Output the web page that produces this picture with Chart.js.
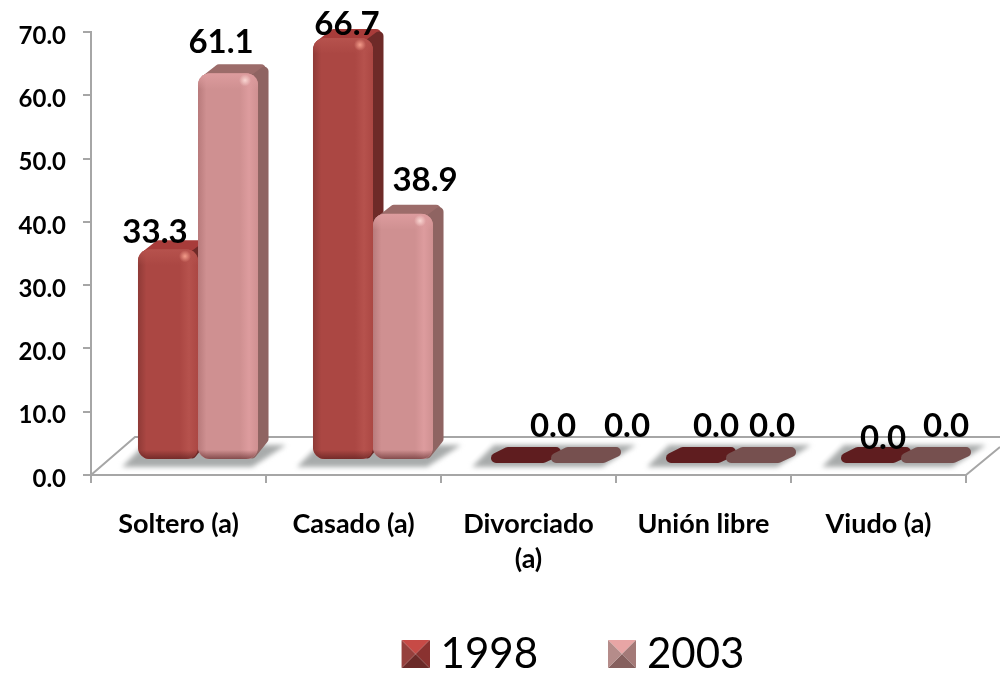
<!DOCTYPE html>
<html><head><meta charset="utf-8">
<style>html,body{margin:0;padding:0;background:#fff}canvas{display:block}</style>
<script src="https://cdn.jsdelivr.net/npm/chart.js@4"></script></head>
<body><canvas id="c" width="1000" height="673"></canvas>
<script>
const categories=[['Soltero (a)'],['Casado (a)'],['Divorciado','(a)'],['Unión libre'],['Viudo (a)']];
const seriesNames=['1998','2003'];
const values1998=[33.3,66.7,0,0,0];
const values2003=[61.1,38.9,0,0,0];
const yTicksMax=70;
const labelOffsets1998=[[-13,-17],[4,-14],[35,-34],[23,-34],[15,-22]];
const labelOffsets2003=[[-7,-31],[22,-33],[49,-34],[19,-34],[18,-34]];
const FONT='Lato, Carlito, sans-serif';
const GRAY='#a6a6a6';
const SHIFT={x:19.5,y:-15};
const DEPTH={x:11,y:9};
const palettes=[
 {front:'#ab4743',left:'#8f3a37',light:'#b6524d',top:'#a83c3a',side:'#6e2a28',flat:'#5f1d1f',glow:'255,170,150',tri:['#c74a46','#8a3230','#6b2a28','#96403d']},
 {front:'#cf9091',left:'#b87a7b',light:'#dd9c9e',top:'#9c6c6a',side:'#8f6462',flat:'#76504f',glow:'255,225,220',tri:['#e8a5a5','#a47a78','#86605e','#b58c8a']}
];
function legendIcon(p){
 const c=document.createElement('canvas');c.width=98;c.height=28;
 const g=c.getContext('2d'),o=70,s=28;
 const tri=(a,b,col)=>{g.fillStyle=col;g.beginPath();g.moveTo(a[0],a[1]);g.lineTo(b[0],b[1]);g.lineTo(o+s/2,s/2);g.closePath();g.fill();};
 tri([o,0],[o+s,0],p.tri[0]);tri([o+s,0],[o+s,s],p.tri[1]);tri([o+s,s],[o,s],p.tri[2]);tri([o,s],[o,0],p.tri[3]);
 return c;
}
function poly(ctx,pts,fill,r){
 ctx.fillStyle=fill;ctx.strokeStyle=fill;ctx.lineWidth=r;ctx.lineJoin='round';
 ctx.beginPath();pts.forEach((p,i)=>i?ctx.lineTo(p[0],p[1]):ctx.moveTo(p[0],p[1]));ctx.closePath();ctx.fill();ctx.stroke();
}
function extrude(ctx,meta,p){
 meta.data.forEach(el=>{
  const l=el.x-el.width/2,r=el.x+el.width/2,t=el.y,b=el.base;
  if(b-t<1){
   poly(ctx,[[l+8,b-2],[l+20,b-8],[r+8,b-8],[r-5,b-2]],p.flat,10);
   return;
  }
  poly(ctx,[[l+7,t+7],[l+DEPTH.x+10,t-DEPTH.y+5],[r+DEPTH.x-8,t-DEPTH.y+5],[r-4,t+9]],p.top,10);
  poly(ctx,[[r-6,t+7],[r+DEPTH.x-5,t-DEPTH.y+7],[r+DEPTH.x-5,b-DEPTH.y-11],[r-6,b-5]],p.side,9);
 });
}
const plugin3d={
 id:'plugin3d',
 afterLayout(chart){
  const L=chart.legend;L.left=43;L.right=1043;L.top=623;L.bottom=677;L.adjustHitBoxes();
 },
 beforeDatasetsDraw(chart){
  const {ctx,chartArea:a}=chart;
  const m0=chart.getDatasetMeta(0),m1=chart.getDatasetMeta(1);
  ctx.save();ctx.strokeStyle=GRAY;ctx.lineWidth=2;
  ctx.beginPath();ctx.moveTo(a.left,a.bottom);ctx.lineTo(a.left+44,a.bottom-38);ctx.lineTo(1000,a.bottom-38);
  ctx.moveTo(a.right,a.bottom);ctx.lineTo(1000,a.bottom-28);ctx.stroke();
  ctx.filter='blur(2.5px)';ctx.fillStyle='#a8abab';
  m0.data.forEach((el,i)=>{
   const l=el.x-el.width/2+SHIFT.x,r=m1.data[i].x+el.width/2+SHIFT.x,b=a.bottom-8;
   ctx.beginPath();ctx.moveTo(l-16,b);ctx.lineTo(l+6,b-22);ctx.lineTo(r+28,b-22);ctx.lineTo(r-6,b);ctx.closePath();ctx.fill();
  });
  ctx.restore();
  ctx.save();ctx.translate(SHIFT.x,SHIFT.y);
  extrude(ctx,m0,palettes[0]);
 },
 beforeDatasetDraw(chart,args){
  if(args.index===1)extrude(chart.ctx,args.meta,palettes[1]);
 },
 afterDatasetDraw(chart,args){
  const {ctx}=chart,p=palettes[args.index];
  args.meta.data.forEach(el=>{
   const l=el.x-el.width/2,r=el.x+el.width/2,t=el.y,b=el.base;
   if(b-t<1)return;
   ctx.save();ctx.beginPath();ctx.roundRect(l,t,r-l,b-t,12);ctx.clip();
   let g=ctx.createLinearGradient(l,0,r,0);
   g.addColorStop(0,p.left);g.addColorStop(.14,p.front);g.addColorStop(.7,p.front);g.addColorStop(.85,p.light);g.addColorStop(1,p.front);
   ctx.fillStyle=g;ctx.fillRect(l,t,r-l,b-t);
   g=ctx.createLinearGradient(0,t,0,t+16);
   g.addColorStop(0,p.light);g.addColorStop(1,p.light+'00');
   ctx.fillStyle=g;ctx.fillRect(l,t,r-l,16);
   g=ctx.createLinearGradient(0,b-9,0,b);
   g.addColorStop(0,'rgba(70,20,20,0)');g.addColorStop(1,'rgba(70,20,20,.55)');
   ctx.fillStyle=g;ctx.fillRect(l,b-9,r-l,9);
   const hx=r-13,hy=t+7;
   g=ctx.createRadialGradient(hx,hy,0,hx,hy,6);
   g.addColorStop(0,'rgba('+p.glow+',.85)');g.addColorStop(1,'rgba('+p.glow+',0)');
   ctx.fillStyle=g;ctx.fillRect(hx-6,hy-6,12,12);
   ctx.restore();
  });
 },
 afterDatasetsDraw(chart){
  const {ctx}=chart;
  ctx.restore();
  ctx.save();ctx.fillStyle='#000';ctx.font='bold 33px '+FONT;ctx.textAlign='center';ctx.textBaseline='middle';
  [labelOffsets1998,labelOffsets2003].forEach((offs,d)=>{
   const ds=chart.data.datasets[d];
   chart.getDatasetMeta(d).data.forEach((el,i)=>{
    ctx.fillText(ds.data[i].toFixed(1),el.x+SHIFT.x+offs[i][0],el.y+SHIFT.y+offs[i][1]);
   });
  });
  ctx.restore();
 }
};
new Chart(document.getElementById('c'),{
 type:'bar',
 data:{labels:categories,datasets:[
  {label:seriesNames[0],data:values1998,backgroundColor:palettes[0].front,clip:false,borderRadius:12,borderSkipped:false,pointStyle:legendIcon(palettes[0])},
  {label:seriesNames[1],data:values2003,backgroundColor:palettes[1].front,clip:false,borderRadius:12,borderSkipped:false,pointStyle:legendIcon(palettes[1])}
 ]},
 plugins:[plugin3d],
 options:{
  responsive:false,animation:false,
  layout:{padding:{left:0,top:32,right:34,bottom:0}},
  datasets:{bar:{categoryPercentage:.686,barPercentage:1}},
  plugins:{
   tooltip:{enabled:false},
   legend:{position:'bottom',labels:{usePointStyle:true,pointStyleWidth:78,padding:10,color:'#000',font:{family:FONT,size:42,lineHeight:1.2}}}
  },
  scales:{
   x:{
    afterFit(s){s.height=136;},
    grid:{drawOnChartArea:false,color:GRAY,lineWidth:2,tickLength:8,offset:true},
    border:{color:GRAY,width:2},
    ticks:{color:'#000',maxRotation:0,autoSkip:false,padding:24,font:{family:FONT,size:27,weight:'bold',lineHeight:1.3}}
   },
   y:{
    min:0,max:yTicksMax,
    afterFit(s){s.width=91;},
    grid:{drawOnChartArea:false,color:GRAY,lineWidth:2,tickLength:8},
    border:{color:GRAY,width:2},
    ticks:{stepSize:10,color:'#000',padding:17,labelOffset:4,font:{family:FONT,size:24,weight:'bold'},callback:v=>v.toFixed(1)}
   }
  }
 }
});
</script></body></html>
